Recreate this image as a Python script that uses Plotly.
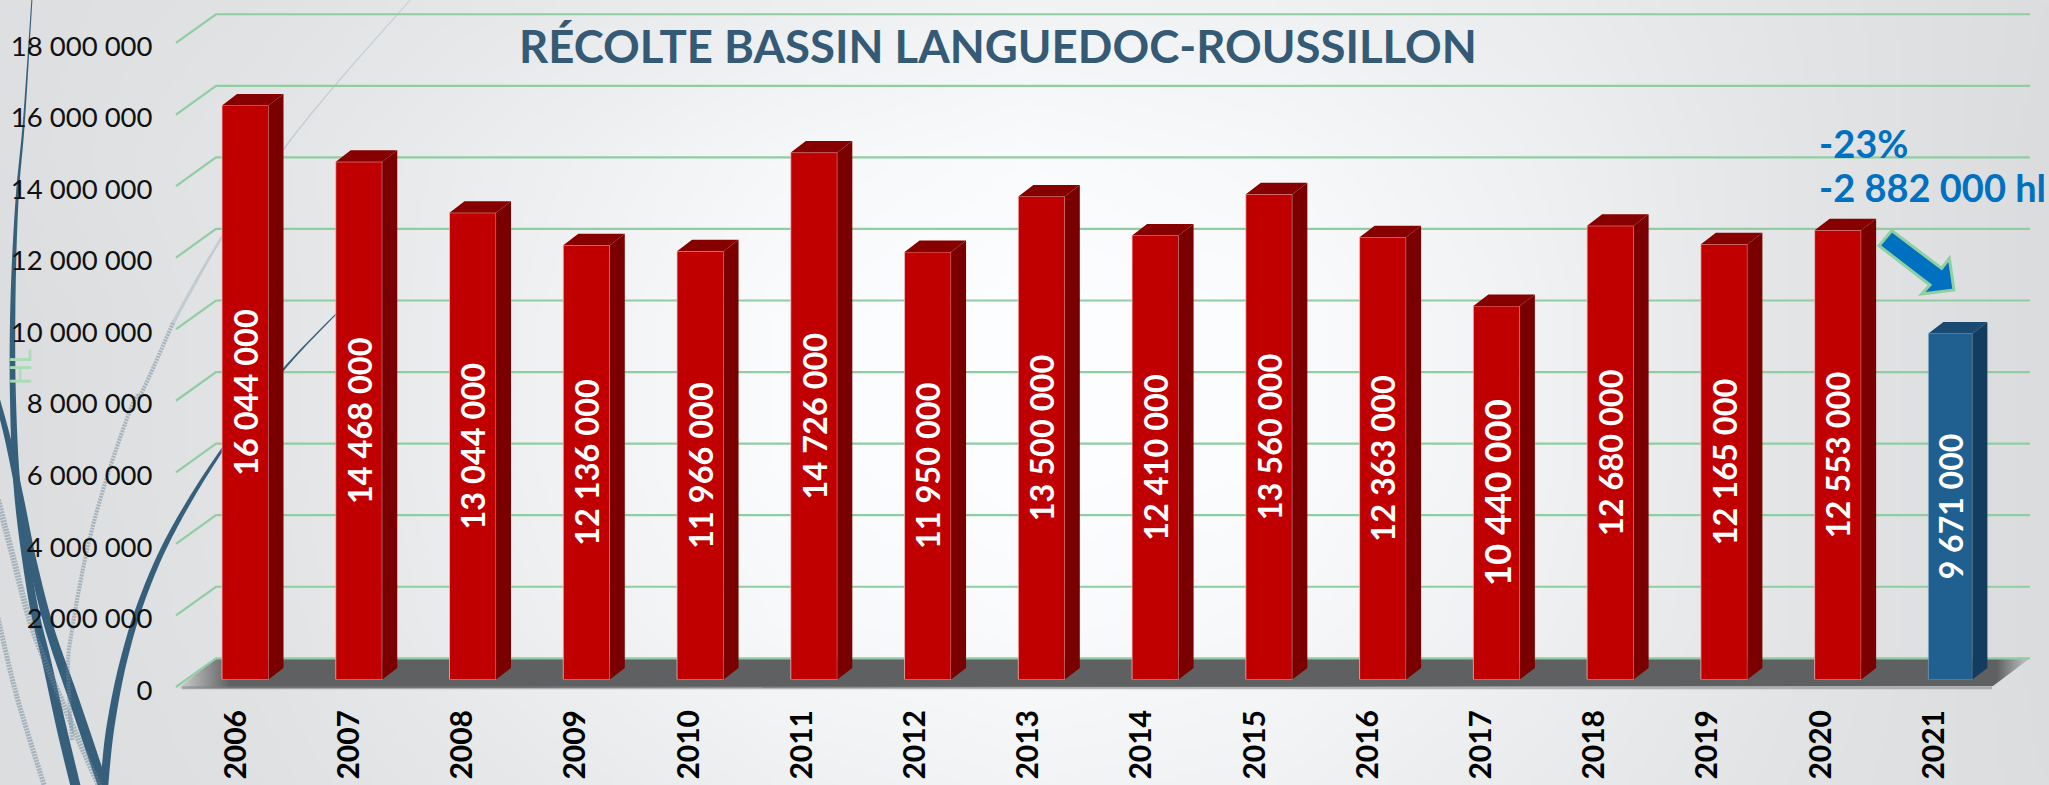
import base64, struct, zlib
import numpy as np
import plotly.graph_objects as go

YEARS = [2006, 2007, 2008, 2009, 2010, 2011, 2012, 2013, 2014, 2015, 2016, 2017, 2018, 2019, 2020, 2021]
HARVEST_HL = [16044000, 14468000, 13044000, 12136000, 11966000, 14726000, 11950000, 13500000,
              12410000, 13560000, 12363000, 10440000, 12680000, 12165000, 12553000, 9671000]
BAR_LABELS = ["16 044 000", "14 468 000", "13 044 000", "12 136 000", "11 966 000", "14 726 000",
              "11 950 000", "13 500 000", "12 410 000", "13 560 000", "12 363 000", "10 440 000",
              "12 680 000", "12 165 000", "12 553 000", "9 671 000"]
LABEL_SIZES = [32.5] * 11 + [36.5] + [32.5] * 3 + [32]
Y_TICKS = [0, 2000000, 4000000, 6000000, 8000000, 10000000, 12000000, 14000000, 16000000, 18000000]
Y_TICK_TEXT = ["0", "2 000 000", "4 000 000", "6 000 000", "8 000 000", "10 000 000",
               "12 000 000", "14 000 000", "16 000 000", "18 000 000"]

W, H = 2049, 785
PX_PER_HL = 35.78 / 1e6
AXIS_Y, FRONT_Y, BAR_Y = 690.0, 687.0, 679.5
LIFT = (AXIS_Y - FRONT_Y) / PX_PER_HL
YEAR_PX, BAR_YEAR_PX = 113.2, 113.76
DX, DY = 15 / BAR_YEAR_PX, 11.5 / PX_PER_HL
BAR_W = [46.5 / BAR_YEAR_PX] * 15 + [44 / BAR_YEAR_PX]
AX_L, AX_R = 170, 2040


def x1(px):
    return 2006 + (px - 236) / YEAR_PX


# background: small grey grid, smoothly upscaled to a PNG
BG = [
    [0xdf, 0xe2, 0xe8, 0xee, 0xf3, 0xf1, 0xec, 0xe4, 0xdd],
    [0xdf, 0xe5, 0xee, 0xf7, 0xfb, 0xf8, 0xf0, 0xe5, 0xdc],
    [0xdd, 0xe4, 0xf0, 0xfb, 0xfe, 0xfc, 0xf2, 0xe5, 0xdc],
    [0xdd, 0xe4, 0xf0, 0xfb, 0xfe, 0xfc, 0xf2, 0xe5, 0xdc],
    [0xdd, 0xe3, 0xee, 0xf8, 0xfb, 0xf8, 0xf0, 0xe5, 0xdc],
    [0xdd, 0xe1, 0xe8, 0xf0, 0xf4, 0xf2, 0xeb, 0xe3, 0xdd],
]


def bg_png():
    g = np.array(BG, float)
    nx, ny = 410, 157
    xs = np.linspace(0, g.shape[1] - 1, nx)
    rows = np.array([np.interp(xs, np.arange(g.shape[1]), r) for r in g])
    ys = np.linspace(0, g.shape[0] - 1, ny)
    img = np.array([np.interp(ys, np.arange(g.shape[0]), c) for c in rows.T]).T
    rgb = np.stack([img - 2, img, img + 1], axis=2).clip(0, 255).astype(np.uint8)
    raw = b"".join(b"\x00" + r.tobytes() for r in rgb)

    def chunk(t, d):
        return struct.pack(">I", len(d)) + t + d + struct.pack(">I", zlib.crc32(t + d) & 0xffffffff)
    png = b"\x89PNG\r\n\x1a\n" + chunk(b"IHDR", struct.pack(">IIBBBBB", nx, ny, 8, 2, 0, 0, 0)) + \
        chunk(b"IDAT", zlib.compress(raw)) + chunk(b"IEND", b"")
    return "data:image/png;base64," + base64.b64encode(png).decode()


def pth(pts, close=True):
    s = "M " + " L ".join(f"{x/W:.5f},{1-y/H:.5f}" for x, y in pts)
    return s + (" Z" if close else "")


def spline(pts, n=14):
    p = np.array([pts[0]] + pts + [pts[-1]], float)
    out = []
    for i in range(1, len(p) - 2):
        for t in np.linspace(0, 1, n, endpoint=False):
            a, b, c, d = p[i - 1], p[i], p[i + 1], p[i + 2]
            out.append(0.5 * (2 * b + (c - a) * t + (2 * a - 5 * b + 4 * c - d) * t ** 2 + (3 * b - a - 3 * c + d) * t ** 3))
    out.append(p[-2])
    return np.array(out)


def ribbon(pts):
    """pts: (x, y, width) -> closed tapered polygon."""
    a = spline([list(q) for q in pts])
    c, w = a[:, :2], a[:, 2]
    t = np.gradient(c, axis=0)
    t /= np.linalg.norm(t, axis=1, keepdims=True)
    nrm = np.stack([-t[:, 1], t[:, 0]], axis=1) * (w / 2)[:, None]
    return list(map(tuple, c + nrm)) + list(map(tuple, (c - nrm)[::-1]))


BLUE = "#365f7c"
shapes = []
for rib in [
    [(32, -2, 1), (24, 120, 2), (17, 200, 3), (13, 300, 5), (13, 400, 6), (18, 497, 7), (32, 597, 8), (47, 663, 9), (62, 730, 10), (76, 788, 10)],
    [(-3, 398, 5), (8, 440, 6), (20, 497, 7), (33, 563, 8), (50, 630, 9), (73, 697, 10), (100, 777, 10), (104, 788, 8)],
    [(104, 788, 8), (110, 730, 8), (123, 663, 7), (143, 597, 6), (173, 530, 5), (222, 450, 3), (283, 370, 2), (345, 305, 1)],
]:
    shapes.append(dict(type="path", xref="paper", yref="paper", path=pth(ribbon(rib)), fillcolor=BLUE,
                       line=dict(width=0), layer="below"))
shapes.append(dict(type="path", xref="paper", yref="paper", layer="below", line=dict(width=0), fillcolor="#c3cbd2",
                   path=pth(ribbon([(412, -2, 0.8), (337, 83, 1.2), (283, 150, 1.6), (222, 237, 2.5), (173, 323, 3.5)]))))
for pts, wd in [
    ([(173, 323), (143, 390), (133, 403), (107, 477), (87, 550), (72, 630), (68, 670), (72, 740)], 4),
    ([(-2, 500), (13, 557), (33, 630), (67, 713), (100, 788)], 6),
    ([(-2, 618), (17, 697), (45, 788)], 5),
]:
    shapes.append(dict(type="path", xref="paper", yref="paper", layer="below",
                       path=pth(list(map(tuple, spline(pts))), close=False),
                       line=dict(color="rgba(110,135,155,0.5)", width=wd, dash="2px,1px")))
ARROW = [(575, 392), (537, 437), (690, 555), (665, 582), (762, 570), (748, 475), (725, 505)]
shapes.append(dict(type="path", xref="paper", yref="paper", layer="above", fillcolor="#0070c0",
                   line=dict(color="#8fd0a2", width=3),
                   path=pth([(1700 + u / 3, 100 + v / 3) for u, v in ARROW])))

fig = go.Figure()

# floor
back_h = (FRONT_Y - 658.3) / PX_PER_HL
fig.add_trace(go.Scatter(
    x=[x1(178), x1(216), x1(2030), x1(1993), x1(178)],
    y=[LIFT - 0.04e6, LIFT + back_h, LIFT + back_h, LIFT + 0.03e6, LIFT - 0.04e6],
    mode="lines", line=dict(width=0), fill="toself", hoverinfo="skip", showlegend=False,
    fillgradient=dict(type="horizontal", colorscale=[[0, "#d0d3d5"], [0.028, "#5f6061"], [0.982, "#5f6061"], [1, "#c8cbcd"]])))
fig.add_trace(go.Scatter(x=[x1(182), x1(1992)], y=[LIFT - 0.02e6, LIFT - 0.02e6], mode="lines",
                         line=dict(color="rgba(130,130,130,0.55)", width=3), hoverinfo="skip", showlegend=False))

# gridlines, from the tick values
gx, gy = [], []
for v in Y_TICKS:
    gx += [x1(176), x1(216), x1(2030), None]
    gy += [LIFT + v, LIFT + v + back_h, LIFT + v + back_h, None]
fig.add_trace(go.Scatter(x=gx, y=gy, mode="lines", line=dict(color="#90cda2", width=2.2),
                         hoverinfo="skip", showlegend=False))

# bars: front faces
colors = ["#c00000"] * 15 + ["#1f6091"]
edge = ["rgba(240,190,190,0.75)"] * 15 + ["rgba(160,190,215,0.5)"]
fig.add_trace(go.Bar(x=YEARS, y=HARVEST_HL, width=BAR_W, offset=0, xaxis="x2", yaxis="y2",
                     marker=dict(color=colors, line=dict(color=edge, width=1)),
                     text=BAR_LABELS, textposition="inside", textangle=-90, insidetextanchor="middle",
                     constraintext="none", cliponaxis=False,
                     textfont=dict(family="Lato", size=LABEL_SIZES, color="white", weight="bold"),
                     hoverinfo="x+y", showlegend=False))


def faces(idx, kind):
    xs, ys = [], []
    for i in idx:
        l, r, v = YEARS[i], YEARS[i] + BAR_W[i], HARVEST_HL[i]
        if kind == "side":
            xs += [r, r + DX, r + DX, r, r, None]
            ys += [0, DY, v + DY, v, 0, None]
        else:
            xs += [l, l + DX, r + DX, r, l, None]
            ys += [v, v + DY, v + DY, v, v, None]
    return xs, ys


for idx, side, top in [(range(15), "#7a0000", "#860000"), ([15], "#143c5e", "#1a4a72")]:
    for kind, col in [("side", side), ("top", top)]:
        xs, ys = faces(idx, kind)
        fig.add_trace(go.Scatter(x=xs, y=ys, xaxis="x2", yaxis="y2", mode="lines", line=dict(width=0),
                                 fill="toself", fillcolor=col, hoverinfo="skip", showlegend=False))

dom_x = [AX_L / W, AX_R / W]
fig.update_layout(
    width=W, height=H, margin=dict(l=0, r=0, t=0, b=0), autosize=False,
    paper_bgcolor="rgba(0,0,0,0)", plot_bgcolor="rgba(0,0,0,0)", showlegend=False,
    barmode="overlay",
    images=[dict(source=bg_png(), xref="paper", yref="paper", x=0, y=1, sizex=1, sizey=1,
                 sizing="stretch", layer="below", xanchor="left", yanchor="top")],
    shapes=shapes,
    title=dict(text="RÉCOLTE BASSIN LANGUEDOC-ROUSSILLON", xref="paper", yref="paper", x=519 / W, xanchor="left",
               y=1 - 47 / H, yanchor="middle",
               font=dict(family="Lato", size=45.5, color="#355a75", weight="bold")),
    xaxis=dict(domain=dom_x, range=[x1(AX_L), x1(AX_R)], tickmode="array", tickvals=YEARS,
               ticktext=[str(y) for y in YEARS], tickangle=-90, ticks="outside", ticklen=7,
               tickcolor="rgba(0,0,0,0)", showgrid=False, zeroline=False, showline=False, automargin=False,
               tickfont=dict(family="Lato", size=30, color="#000000", weight="bold")),
    yaxis=dict(domain=[(H - AXIS_Y) / H, 1], range=[0, AXIS_Y / PX_PER_HL], tickmode="array", tickvals=Y_TICKS,
               ticktext=Y_TICK_TEXT, ticks="outside", ticklen=11, tickcolor="rgba(0,0,0,0)",
               showgrid=False, zeroline=False, showline=False, automargin=False,
               tickfont=dict(family="Lato", size=27.5, color="#111111")),
    xaxis2=dict(domain=dom_x, range=[2006 + (AX_L - 222) / BAR_YEAR_PX, 2006 + (AX_R - 222) / BAR_YEAR_PX],
                visible=False, anchor="y2"),
    yaxis2=dict(domain=[(H - BAR_Y) / H, 1], range=[0, BAR_Y / PX_PER_HL], visible=False, anchor="x2"),
    annotations=[
        dict(text="-23%", xref="paper", yref="paper", x=1817 / W, y=1 - 143 / H, xanchor="left", yanchor="middle",
             showarrow=False, font=dict(family="Lato", size=38, color="#0070c0", weight="bold")),
        dict(text="-2 882 000 hl", xref="paper", yref="paper", x=1817 / W, y=1 - 187 / H, xanchor="left", yanchor="middle",
             showarrow=False, font=dict(family="Lato", size=38, color="#0070c0", weight="bold")),
        dict(text="HL", xref="paper", yref="paper", x=20 / W, y=1 - 367 / H, xanchor="center", yanchor="middle",
             textangle=-90, showarrow=False, font=dict(family="Lato", size=28, color="#a9dcb6")),
    ],
)

fig.write_html("out.html", config=dict(displayModeBar=False),
               post_script="document.body.style.margin='0';document.body.style.overflow='hidden';")
